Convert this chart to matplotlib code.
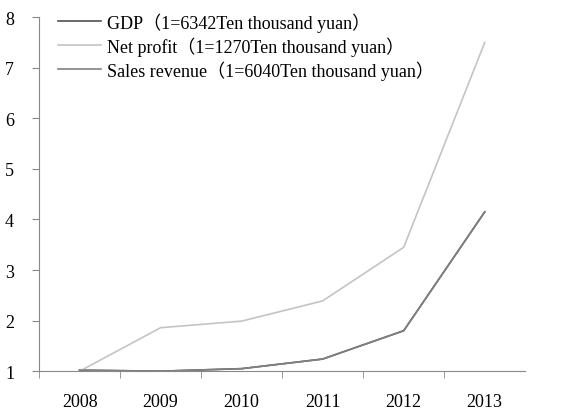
import matplotlib.pyplot as plt
import numpy as np

plt.rcParams['font.family'] = ['Liberation Serif', 'Noto Sans CJK SC']

years = ['2008', '2009', '2010', '2011', '2012', '2013']
gdp = [1.02, 1.0, 1.05, 1.24, 1.80, 4.15]
net_profit = [1.0, 1.86, 1.99, 2.39, 3.45, 7.5]
sales = [1.02, 1.0, 1.05, 1.24, 1.80, 4.15]

labels = ['GDP（1=6342Ten thousand yuan）',
          'Net profit（1=1270Ten thousand yuan）',
          'Sales revenue（1=6040Ten thousand yuan）']

fig = plt.figure(figsize=(5.66, 4.14), dpi=100)
ax = fig.add_axes([0.069, 0.101, 0.859, 0.855])

x = np.arange(len(years))
ax.plot(x, gdp, color='#505050', lw=1.2, label=labels[0])
ax.plot(x, net_profit, color='#c4c4c4', lw=1.2, label=labels[1])
ax.plot(x, sales, color='#808080', lw=1.2, label=labels[2])

ax.set_xlim(-0.5, 5.5)
ax.set_ylim(1, 8)
ax.set_yticks(range(1, 9))
ax.set_xticks(x)
ax.set_xticklabels(years)
ax.set_xticks(np.arange(-0.5, 5.5, 1), minor=True)
ax.tick_params(axis='x', which='major', length=0, pad=16, labelsize=13)
ax.tick_params(axis='x', which='minor', length=5, color='#888888', direction='out')
ax.tick_params(axis='y', length=5, color='#888888', labelsize=13, pad=13)

for s in ['top', 'right']:
    ax.spines[s].set_visible(False)
for s in ['left', 'bottom']:
    ax.spines[s].set_color('#888888')

ax.legend(loc='upper left', bbox_to_anchor=(0.005, 1.06), frameon=False,
          fontsize=13, handlelength=2.4, handletextpad=0.35, labelspacing=0.25)

plt.savefig('out.png', dpi=100)
